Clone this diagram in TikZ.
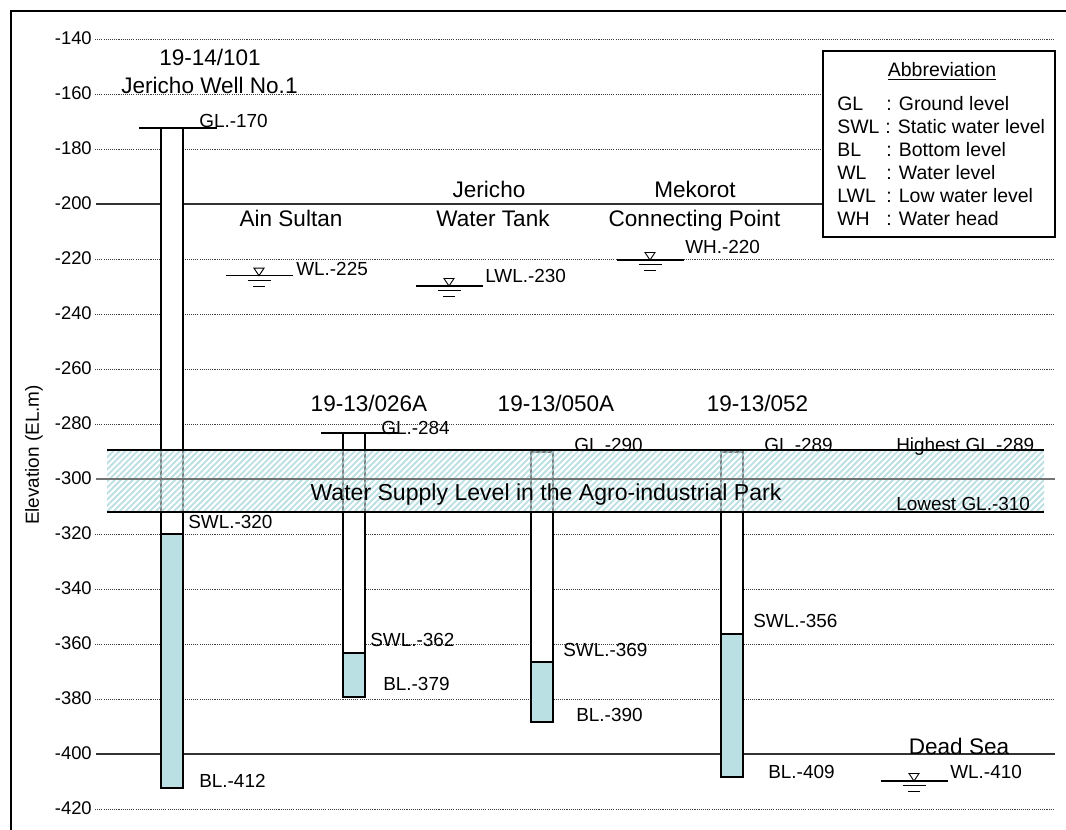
\documentclass[tikz,border=0pt]{standalone}
\usepackage{fontspec}
\setmainfont{Liberation Sans}
\usetikzlibrary{patterns.meta}
\definecolor{water}{RGB}{187,224,228}
\definecolor{hatch}{RGB}{160,210,216}
\tikzset{
  gridln/.style={black!75, line width=0.6pt, dash pattern=on 0.8pt off 0.8pt},
  majorln/.style={black!80, line width=0.8pt},
  casing/.style={draw=black, line width=0.9pt, fill=white},
  wfill/.style={draw=black, line width=0.9pt, fill=water},
  ticklbl/.style={anchor=base east, inner sep=0pt, font=\fontsize{13.8}{16}\selectfont},
  ttl/.style={anchor=base, inner sep=0pt, font=\fontsize{16.9}{20}\selectfont},
  lbl/.style={anchor=base west, inner sep=0pt, font=\fontsize{14.2}{17}\selectfont},
  leg/.style={anchor=base west, inner sep=0pt, font=\fontsize{14.6}{17}\selectfont},
  wsym/.pic={
    \draw[line width=0.9pt] (-33.5,0) -- (33.5,0);
    \draw[line width=0.7pt] (-5,-7.5) -- (5,-7.5) -- (0,0) -- cycle;
    \draw[line width=0.9pt] (-11.5,4.5) -- (11.5,4.5);
    \draw[line width=0.9pt] (-6,10.5) -- (6,10.5);
  }
}
\begin{document}
\begin{tikzpicture}[x=0.75pt,y=-0.75pt]
\useasboundingbox (0,0) rectangle (1066,830);
% frame
\draw[line width=0.8pt] (11,835) -- (11,11) -- (1070,11);
% grid lines
\foreach \v in {-140,-160,-180,-220,-240,-260,-280,-320,-340,-360,-380,-420}{
  \pgfmathsetmacro\yy{39+(-140-\v)*2.75}
  \draw[gridln] (95,\yy) -- (1053,\yy);
}
\draw[majorln] (96,204) -- (1053,204);
\draw[majorln] (96,754) -- (1055,754);
% tick labels
\foreach \v [count=\i] in {-140,-160,...,-420}{
  \pgfmathsetmacro\yy{39+(-140-\v)*2.75+5.3}
  \node[ticklbl] (tk\i) at (92,\yy) {\v};
}
% axis title
\node[rotate=90, inner sep=0pt, font=\fontsize{14.2}{17}\selectfont] (ytitle) at (34,455) {Elevation (EL.m)};

% Well 1
\draw[line width=0.9pt] (139,128) -- (217,128);
\draw[casing] (161,128) rectangle (183,788);
\draw[wfill] (161,534) rectangle (183,788);
% Well 026A
\draw[line width=0.9pt] (321,433) -- (398,433);
\draw[casing] (343,433) rectangle (365,697);
\draw[wfill] (343,653) rectangle (365,697);
% Well 050A
\draw[casing] (531,452) rectangle (553,722);
\draw[wfill] (531,662) rectangle (553,722);
% Well 052
\draw[casing] (721,452) rectangle (743,777);
\draw[wfill] (721,634) rectangle (743,777);

% band
\fill[white, opacity=0.5] (107,450) rectangle (1044,512);
\fill[pattern={Lines[angle=45,distance=3.2pt,line width=1.4pt]}, pattern color=hatch, opacity=0.7] (107,450) rectangle (1044,512);
\draw[black!55, line width=0.8pt] (96,479) -- (1055,479);
\draw[line width=0.9pt] (107,450) -- (1044,450);
\draw[line width=0.9pt] (107,512) -- (1044,512);

% water symbols
\pic at (259,275.7) {wsym};
\pic at (449,286) {wsym};
\pic at (650,260) {wsym};
\pic at (914,781) {wsym};

% legend
\draw[fill=white, line width=0.9pt] (823,51) rectangle (1055,237);
\node[anchor=base, inner sep=0pt, font=\fontsize{14.6}{17}\selectfont] (abbr) at (942,77) {\underline{Abbreviation}};
\node[leg] (a1) at (837,110.5) {GL};
\node[leg] (d1) at (886,110.5) {: Ground level};
\node[leg] (a2) at (837,133.5) {SWL};
\node[leg] (d2) at (885,133.5) {: Static water level};
\node[leg] (a3) at (837,156.5) {BL};
\node[leg] (d3) at (886,156.5) {: Bottom level};
\node[leg] (a4) at (837,179.5) {WL};
\node[leg] (d4) at (886,179.5) {: Water level};
\node[leg] (a5) at (837,203) {LWL};
\node[leg] (d5) at (886,203) {: Low water level};
\node[leg] (a6) at (837,226) {WH};
\node[leg] (d6) at (886,226) {: Water head};

% titles
\node[ttl] (t1a) at (210,65.5) {19-14/101};
\node[ttl] (t1b) at (209.5,93.5) {Jericho Well No.1};
\node[ttl] (t2) at (291,226.5) {Ain Sultan};
\node[ttl] (t3a) at (489,198) {Jericho};
\node[ttl] (t3b) at (493,226.5) {Water Tank};
\node[ttl] (t4a) at (695,198) {Mekorot};
\node[ttl] (t4b) at (694.5,226.5) {Connecting Point};
\node[ttl] (t5) at (369,411.5) {19-13/026A};
\node[ttl] (t6) at (556,411.5) {19-13/050A};
\node[ttl] (t7) at (757.5,411.5) {19-13/052};
\node[ttl] (t8) at (959,754) {Dead Sea};
\node[anchor=base, inner sep=0pt, font=\fontsize{17.3}{20}\selectfont] (band) at (546,500) {Water Supply Level in the Agro-industrial Park};

% labels
\node[lbl] (l1) at (199,128) {GL.-170};
\node[lbl] (l2) at (188,528) {SWL.-320};
\node[lbl] (l3) at (199,787) {BL.-412};
\node[lbl] (l4) at (296,276) {WL.-225};
\node[lbl] (l5) at (485,283) {LWL.-230};
\node[lbl] (l6) at (685,254) {WH.-220};
\node[lbl] (l7) at (381,434) {GL.-284};
\node[lbl] (l8) at (574,451.5) {GL.-290};
\node[lbl] (l9) at (764,451.5) {GL.-289};
\node[lbl] (l10) at (896,451.5) {Highest GL.-289};
\node[lbl] (l11) at (896,510) {Lowest GL.-310};
\node[lbl] (l12) at (370,646) {SWL.-362};
\node[lbl] (l13) at (383,690.5) {BL.-379};
\node[lbl] (l14) at (563,656) {SWL.-369};
\node[lbl] (l15) at (576,721.5) {BL.-390};
\node[lbl] (l16) at (753,627) {SWL.-356};
\node[lbl] (l17) at (768,778) {BL.-409};
\node[lbl] (l18) at (950,778) {WL.-410};
\end{tikzpicture}
\end{document}
